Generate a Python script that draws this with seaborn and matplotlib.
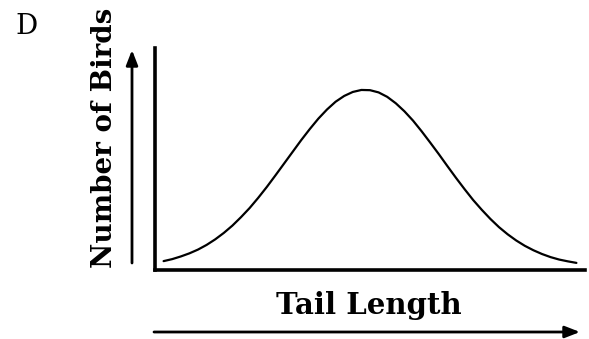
import matplotlib
matplotlib.use("Agg")
import matplotlib.pyplot as plt
from matplotlib.patches import FancyArrowPatch
import seaborn as sns
import pandas as pd

sns.set_theme(style="white")
plt.rcParams["font.family"] = ["DejaVu Serif"]
plt.rcParams["text.color"] = "black"

# tail length (arbitrary units, 0-100) and number of birds
tail_length = [2, 4, 6, 8, 10, 12, 14, 16, 18, 20, 22, 24, 26, 28, 30, 32, 34,
               36, 38, 40, 42, 44, 46, 48, 50, 52, 54, 56, 58, 60, 62, 64, 66,
               68, 70, 72, 74, 76, 78, 80, 82, 84, 86, 88, 90, 92, 94, 96, 98]
num_birds = [4.0, 4.9, 6.1, 7.5, 9.2, 11.3, 13.8, 16.7, 20.0, 23.8, 27.9, 32.5,
             37.4, 42.6, 47.9, 53.2, 58.5, 63.5, 68.2, 72.3, 75.8, 78.4, 80.2,
             81.1, 81.0, 80.0, 78.0, 75.1, 71.5, 67.3, 62.5, 57.4, 52.2, 46.8,
             41.5, 36.4, 31.5, 27.1, 23.0, 19.3, 16.1, 13.3, 10.9, 8.9, 7.2,
             5.8, 4.7, 3.9, 3.2]

df = pd.DataFrame({"Tail Length": tail_length, "Number of Birds": num_birds})

W, H = 589, 339
fig = plt.figure(figsize=(W / 100, H / 100), dpi=100)
fig.patch.set_facecolor("white")

# axes box in pixels: x 155..585, y 48..270 (from top)
ax = fig.add_axes([155 / W, (H - 270) / H, 430 / W, 222 / H])

sns.lineplot(
    data=df,
    x="Tail Length",
    y="Number of Birds",
    color="black",
    linewidth=1.6,
    ax=ax
)

ax.set_xlim(0, 100)
ax.set_ylim(0, 100)
ax.set_xticks([])
ax.set_yticks([])
ax.set_xlabel("")
ax.set_ylabel("")
ax.set_facecolor("white")

for side in ["top", "right"]:
    ax.spines[side].set_visible(False)
for side in ["left", "bottom"]:
    ax.spines[side].set_color("black")
    ax.spines[side].set_linewidth(2.6)


def px(x, y):
    return (x / W, 1 - y / H)


# axis arrows
for start, end in [((132, 263), (132, 50)), ((154, 332), (580, 332))]:
    fig.add_artist(FancyArrowPatch(
        px(*start), px(*end),
        transform=fig.transFigure,
        arrowstyle="-|>,head_length=0.9,head_width=0.35",
        mutation_scale=10,
        color="black",
        linewidth=2.0,
        shrinkA=0,
        shrinkB=0
    ))

fig.text(*px(369, 306), "Tail Length", ha="center", va="center",
         fontsize=21, fontweight="bold")
fig.text(*px(104, 138), "Number of Birds", ha="center", va="center",
         rotation=90, fontsize=20, fontweight="bold")
fig.text(*px(27, 26), "D", ha="center", va="center", fontsize=20)

fig.savefig("out.png", dpi=100, facecolor="white")
